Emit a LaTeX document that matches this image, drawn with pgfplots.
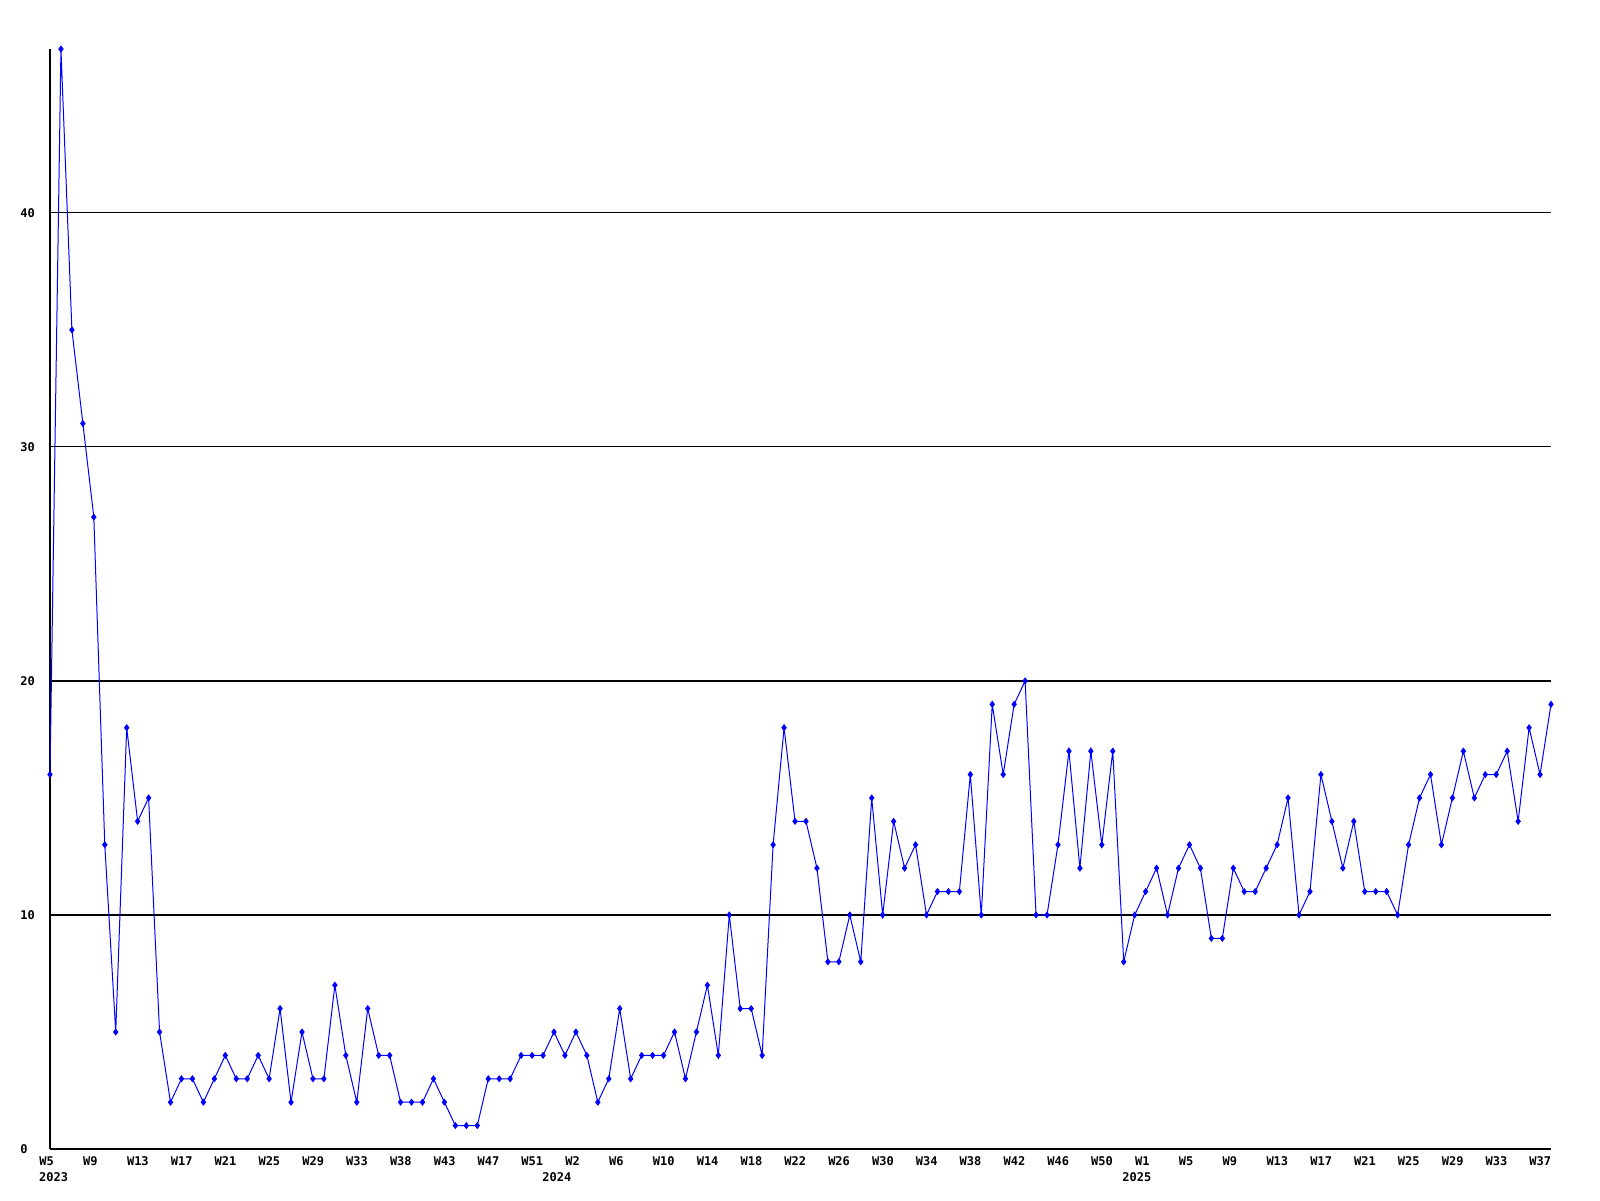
\documentclass[border=0pt]{standalone}
\usepackage{fontspec}
\setmainfont{DejaVu Sans Mono}
\usepackage{pgfplots}
\pgfplotsset{compat=1.18}

\begin{document}
\begin{tikzpicture}
\begin{axis}[
  scale only axis, width=750.5pt, height=550pt,
  xmin=0, xmax=137, ymin=0, ymax=47,
  axis lines*=left,
  axis line style={black, line width=0.6pt},
  clip=false,
  major tick length=0pt,
  ytick={0,10,20,30,40},
  ymajorgrids, grid style={black, line width=0.6pt},
  /pgf/number format/assume math mode=true,
  tick label style={font=\fontsize{6}{7}\selectfont\bfseries, inner sep=0pt},
  yticklabel style={anchor=west, xshift=-15pt},
  xtick={0,4,...,136},
  xticklabels={W5,W9,W13,W17,W21,W25,W29,W33,W38,W43,W47,W51,W2,W6,W10,W14,W18,W22,W26,W30,W34,W38,W42,W46,W50,W1,W5,W9,W13,W17,W21,W25,W29,W33,W37},
  xticklabel style={anchor=west, xshift=-5.5pt, yshift=-6pt},
]
\addplot[blue, line width=0.5pt, mark=diamond*, mark size=1.4pt, mark options={blue}] coordinates {
(0,16) (1,47) (2,35) (3,31) (4,27) (5,13) (6,5) (7,18) (8,14) (9,15)
(10,5) (11,2) (12,3) (13,3) (14,2) (15,3) (16,4) (17,3) (18,3) (19,4)
(20,3) (21,6) (22,2) (23,5) (24,3) (25,3) (26,7) (27,4) (28,2) (29,6)
(30,4) (31,4) (32,2) (33,2) (34,2) (35,3) (36,2) (37,1) (38,1) (39,1)
(40,3) (41,3) (42,3) (43,4) (44,4) (45,4) (46,5) (47,4) (48,5) (49,4)
(50,2) (51,3) (52,6) (53,3) (54,4) (55,4) (56,4) (57,5) (58,3) (59,5)
(60,7) (61,4) (62,10) (63,6) (64,6) (65,4) (66,13) (67,18) (68,14) (69,14)
(70,12) (71,8) (72,8) (73,10) (74,8) (75,15) (76,10) (77,14) (78,12) (79,13)
(80,10) (81,11) (82,11) (83,11) (84,16) (85,10) (86,19) (87,16) (88,19) (89,20)
(90,10) (91,10) (92,13) (93,17) (94,12) (95,17) (96,13) (97,17) (98,8) (99,10)
(100,11) (101,12) (102,10) (103,12) (104,13) (105,12) (106,9) (107,9) (108,12) (109,11)
(110,11) (111,12) (112,13) (113,15) (114,10) (115,11) (116,16) (117,14) (118,12) (119,14)
(120,11) (121,11) (122,11) (123,10) (124,13) (125,15) (126,16) (127,13) (128,15) (129,17)
(130,15) (131,16) (132,16) (133,17) (134,14) (135,18) (136,16) (137,19)
};
% year labels under the first week of each year
\node[anchor=west, inner sep=0pt, yshift=-14pt, font=\fontsize{6}{7}\selectfont\bfseries] at (axis cs:-1.02,0) {2023};
\node[anchor=west, inner sep=0pt, yshift=-14pt, font=\fontsize{6}{7}\selectfont\bfseries] at (axis cs:44.9,0) {2024};
\node[anchor=west, inner sep=0pt, yshift=-14pt, font=\fontsize{6}{7}\selectfont\bfseries] at (axis cs:97.85,0) {2025};
\end{axis}
\pgfresetboundingbox
\path[use as bounding box] (-25pt,-25.5pt) rectangle (775pt,574.5pt);
\end{tikzpicture}
\end{document}
